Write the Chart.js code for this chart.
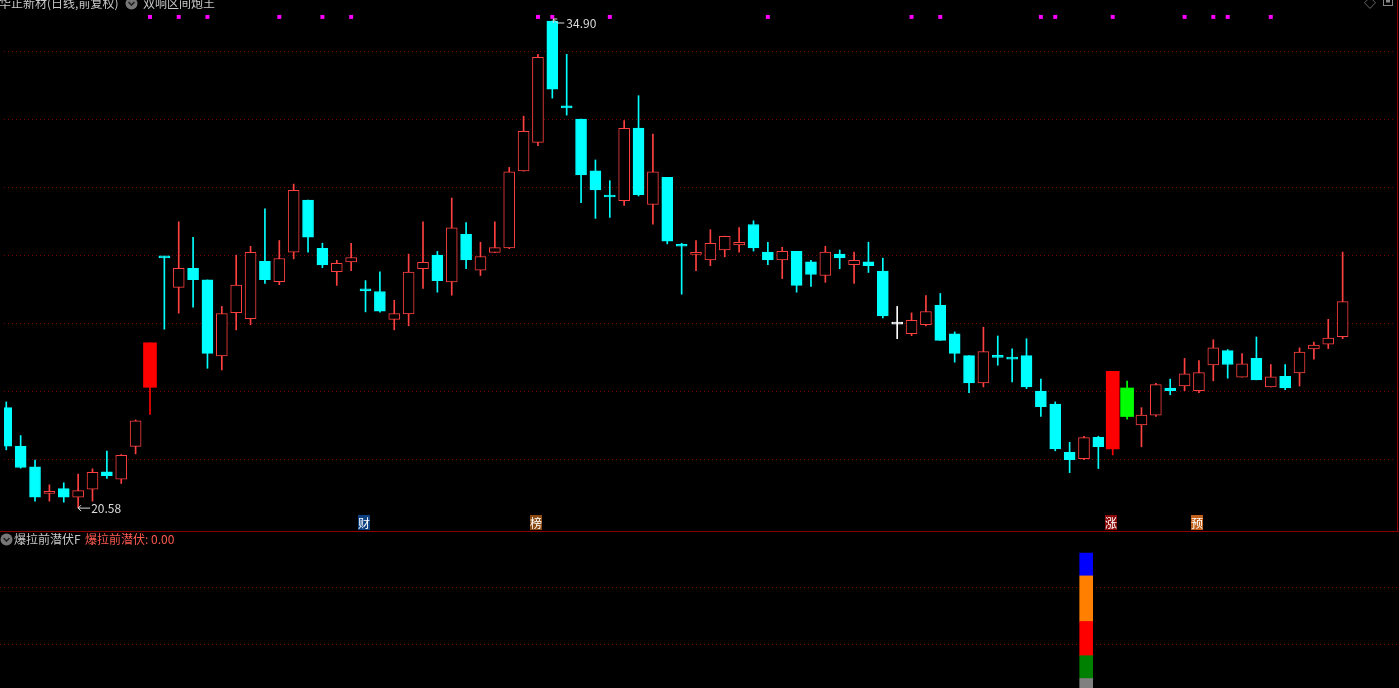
<!DOCTYPE html>
<html>
<head>
<meta charset="utf-8">
<script src="https://cdn.jsdelivr.net/npm/chart.js@4.4.1/dist/chart.umd.min.js"></script>
<style>
  body { margin: 0; background: #000; width: 1399px; height: 688px; overflow: hidden; position: relative;
         font-family: "Noto Sans CJK SC", "Noto Sans", sans-serif; }
  canvas { position: absolute; left: 0; }
  .t { position: absolute; font-size: 12px; line-height: 14px; white-space: nowrap; color: #c8c8c8; }
  .ico { position: absolute; }
</style>
</head>
<body>
<canvas id="main" width="1399" height="531" style="top:0;width:1399px;height:531px"></canvas>
<div style="position:absolute;left:0;top:531px;width:1399px;height:1px;background:#8c0000"></div>
<div style="position:absolute;left:1397px;top:0;width:1px;height:531px;background:#8c0000"></div>
<canvas id="sub" width="1399" height="156" style="top:532px;width:1399px;height:156px"></canvas>

<div class="t" style="left:-1px;top:-4px">华正新材(日线,前复权)</div>
<svg class="ico" style="left:125px;top:-3px" width="13" height="13"><circle cx="6.5" cy="6.5" r="6" fill="#777"/><path d="M3.5 5 L6.5 8 L9.5 5" stroke="#222" stroke-width="1.6" fill="none"/></svg>
<div class="t" style="left:143px;top:-4px">双响区间炮王</div>
<div class="t" style="left:1364px;top:-4px;color:#888">◇</div>
<svg class="ico" style="left:1383px;top:-3px" width="11" height="10"><rect x="0.5" y="0.5" width="9" height="8" fill="none" stroke="#888"/><rect x="3" y="0.5" width="4" height="5" fill="#888"/></svg>

<svg class="ico" style="left:0px;top:533px" width="13" height="13"><circle cx="6.5" cy="6.5" r="6" fill="#777"/><path d="M3.5 5 L6.5 8 L9.5 5" stroke="#222" stroke-width="1.6" fill="none"/></svg>
<div class="t" style="left:14px;top:532px">爆拉前潜伏F</div>
<div class="t" id="subval" style="left:85px;top:532px;color:#ff5a50"></div>

<script>
// daily candles, left to right
const opens = [23.52, 22.39, 21.78, 21.02, 21.14, 20.89, 21.12, 21.63, 21.42, 22.38,
  24.12, 27.97, 27.06, 27.62, 27.28, 25.04, 26.32, 26.14, 27.83, 27.23,
  28.10, 29.63, 28.21, 27.52, 27.81, 27.00, 26.94, 26.12, 26.28, 27.61,
  28.01, 27.22, 28.62, 27.57, 28.09, 28.22, 30.49, 31.33, 34.90, 32.38,
  32.01, 30.49, 29.76, 29.61, 31.75, 29.50, 30.30, 28.31, 28.05, 27.87,
  28.16, 28.31, 28.91, 28.10, 27.87, 28.12, 27.81, 27.41, 28.04, 27.73,
  27.81, 27.54, 26.01, 25.70, 25.96, 26.53, 25.69, 25.05, 24.25, 25.04,
  24.99, 25.05, 24.01, 23.63, 22.21, 22.02, 22.65, 22.31, 24.10, 23.01,
  23.30, 24.10, 24.16, 24.02, 24.78, 25.20, 24.42, 24.97, 24.13, 24.44,
  24.54, 25.25, 25.39, 25.61];
const highs = [23.69, 22.70, 21.98, 21.25, 21.31, 21.57, 21.72, 22.24, 22.14, 23.16,
  25.43, 27.97, 28.99, 28.53, 27.28, 26.50, 28.01, 28.27, 29.37, 28.44,
  30.10, 29.63, 28.36, 27.86, 28.36, 27.26, 27.52, 26.68, 28.04, 28.99,
  28.12, 29.69, 28.97, 28.39, 28.99, 30.59, 32.10, 33.92, 34.90, 33.92,
  32.01, 30.81, 30.20, 31.97, 32.70, 31.57, 30.30, 28.36, 28.44, 28.76,
  28.57, 28.82, 29.02, 28.39, 28.24, 28.12, 27.86, 28.27, 28.16, 28.10,
  28.39, 27.92, 26.50, 26.31, 26.82, 26.88, 25.75, 25.05, 25.89, 25.63,
  25.25, 25.55, 24.36, 23.69, 22.50, 22.68, 22.68, 24.59, 24.30, 23.52,
  24.24, 24.36, 24.97, 24.91, 25.52, 25.23, 25.11, 25.60, 24.79, 24.79,
  25.28, 25.45, 26.12, 28.10];
const lows = [22.28, 21.74, 20.77, 20.77, 20.74, 20.58, 20.77, 21.44, 21.29, 22.16,
  23.32, 25.83, 26.30, 26.48, 24.68, 24.63, 25.81, 25.96, 27.18, 27.14,
  27.90, 28.10, 27.64, 27.12, 27.55, 26.34, 26.33, 25.81, 25.93, 27.03,
  26.92, 26.83, 27.61, 27.41, 28.08, 28.20, 30.48, 31.23, 32.63, 32.13,
  29.55, 29.09, 29.12, 29.47, 29.75, 28.92, 28.34, 26.86, 27.55, 27.70,
  27.96, 28.10, 28.13, 27.73, 27.32, 26.92, 27.09, 27.21, 27.61, 27.18,
  27.50, 26.16, 25.55, 25.64, 25.93, 25.50, 24.86, 23.96, 24.13, 24.77,
  24.28, 24.08, 23.26, 22.25, 21.61, 21.99, 21.73, 22.13, 23.18, 22.37,
  23.26, 23.90, 24.02, 23.96, 24.31, 24.39, 24.42, 24.34, 24.13, 24.05,
  24.16, 24.95, 25.26, 25.55];
const closes = [22.39, 21.76, 20.89, 21.04, 20.89, 21.08, 21.62, 21.52, 22.12, 23.13,
  25.43, 27.95, 27.62, 27.29, 25.12, 26.29, 27.13, 28.09, 27.29, 27.91,
  29.92, 28.54, 27.72, 27.77, 27.94, 26.98, 26.36, 26.29, 27.51, 27.80,
  27.26, 28.81, 27.87, 27.97, 28.23, 30.46, 31.65, 33.83, 32.89, 32.36,
  30.37, 29.93, 29.74, 31.74, 29.79, 30.46, 28.42, 28.29, 28.07, 28.36,
  28.56, 28.39, 28.22, 27.87, 28.12, 27.12, 27.44, 28.10, 27.93, 27.86,
  27.70, 26.22, 26.01, 26.09, 26.35, 25.50, 25.12, 24.25, 25.17, 25.02,
  24.97, 24.13, 23.55, 22.31, 21.99, 22.64, 22.37, 24.59, 23.26, 23.30,
  24.20, 24.02, 24.52, 24.55, 25.28, 24.79, 24.81, 24.34, 24.43, 24.10,
  25.16, 25.36, 25.57, 26.64];

const limitUp = [10, 77];          // solid red bars
const greenBar = [78];             // highlighted green bar
const signalDots = [10, 12, 14, 19, 22, 24, 37, 38, 42, 53, 63, 65, 72, 73, 77, 82, 84, 85, 88];
const dotLevel = 35.02;
const tagIndex = [25, 37, 77, 83];
const tagText = ['财', '榜', '涨', '预'];
const tagColor = ['#0c3f80', '#8a4a12', '#8a0a0a', '#c0601a'];
const priceGrid = [22, 24, 26, 28, 30, 32, 34];

// lower panel
const subIndex = 75;
const subSegments = [20, 20, 30, 40, 20];
const subColors = ['#808080', '#008000', '#ff0000', '#ff8000', '#0000ff'];
const subGrid = [50, 100];
const subValue = 0.00;

const UP = '#ff4040', DOWN = '#00ffff', GRID = '#7a0000';
const X_MIN = -0.159, X_MAX = 96.644;

function candleColor(i) {
    if (greenBar.includes(i)) return '#00ff00';
    if (limitUp.includes(i)) return '#ff0000';
    if (closes[i] > opens[i]) return UP;
    if (closes[i] < opens[i]) return DOWN;
    return '#ffffff';
}
function bodyRange(i) {
    let a = Math.min(opens[i], closes[i]), b = Math.max(opens[i], closes[i]);
    if (b - a < 0.06) { const m = (a + b) / 2; a = m - 0.03; b = m + 0.03; }
    return [a, b];
}
const isWide = i => limitUp.includes(i) || greenBar.includes(i);
const idx = opens.map((_, i) => i);
const hollow = i => closes[i] > opens[i] && !isWide(i);

const candleLabels = {
    id: 'candleLabels',
    afterDatasetsDraw(chart) {
        const { ctx, scales: { x, y } } = chart;
        ctx.save();
        ctx.font = '12px "Noto Sans CJK SC", sans-serif';
        ctx.textBaseline = 'middle';
        ctx.strokeStyle = ctx.fillStyle = '#dcdcdc';
        ctx.lineWidth = 1;
        // highest
        let hi = 0, lo = 0;
        idx.forEach(i => { if (highs[i] > highs[hi]) hi = i; if (lows[i] < lows[lo]) lo = i; });
        let px = x.getPixelForValue(hi), py = y.getPixelForValue(highs[hi]);
        ctx.beginPath();
        ctx.moveTo(px + 1, py - 2); ctx.lineTo(px + 5, py + 2); ctx.lineTo(px + 12, py + 2);
        ctx.moveTo(px + 1, py - 2); ctx.lineTo(px + 1, py + 2);
        ctx.moveTo(px + 1, py - 2); ctx.lineTo(px + 5, py - 2);
        ctx.stroke();
        ctx.fillText(highs[hi].toFixed(2), px + 14, py + 2);
        // lowest
        px = x.getPixelForValue(lo); py = y.getPixelForValue(lows[lo]);
        ctx.beginPath();
        ctx.moveTo(px, py + 0.5); ctx.lineTo(px + 12, py + 0.5);
        ctx.moveTo(px, py + 0.5); ctx.lineTo(px + 3, py - 2.5);
        ctx.moveTo(px, py + 0.5); ctx.lineTo(px + 3, py + 3.5);
        ctx.stroke();
        ctx.fillText(lows[lo].toFixed(2), px + 13, py + 1);
        // event tags at the bottom
        ctx.textAlign = 'center';
        tagIndex.forEach((i, k) => {
            const tx = Math.round(x.getPixelForValue(i)) - 2;
            ctx.fillStyle = tagColor[k];
            ctx.fillRect(tx - 6, 515, 12, 15);
            ctx.fillStyle = '#ffffff';
            ctx.fillText(tagText[k], tx, 523);
        });
        ctx.restore();
    }
};

const yGrid = vals => ({
    display: true,
    afterBuildTicks: s => { s.ticks = vals.map(v => ({ value: v })); },
    afterFit: s => { s.width = 0; },
    ticks: { display: false },
    grid: { color: GRID, drawTicks: false, lineWidth: 1 },
    border: { display: false, dash: [1, 3] }
});
const xAxis = { type: 'linear', min: X_MIN, max: X_MAX, offset: false, display: false, grid: { offset: false } };

new Chart(document.getElementById('main'), {
    type: 'bar',
    data: {
        datasets: [
            {
                type: 'line', order: 0, showLine: false,
                data: signalDots.map(i => ({ x: i, y: dotLevel })),
                pointStyle: 'rect', pointRadius: 2.8, pointBorderWidth: 0,
                pointBackgroundColor: '#ff00ff'
            },
            {
                order: 1, barThickness: 13, grouped: false,
                data: idx.filter(isWide).map(i => ({ x: i, y: [opens[i], closes[i]] })),
                backgroundColor: c => candleColor(c.raw.x), borderWidth: 0
            },
            {
                order: 2, barThickness: 11, grouped: false,
                data: idx.filter(i => !isWide(i)).map(i => ({ x: i, y: bodyRange(i) })),
                backgroundColor: c => hollow(c.raw.x) ? '#000000' : candleColor(c.raw.x),
                borderColor: c => candleColor(c.raw.x),
                borderWidth: 1, borderSkipped: false
            },
            {
                order: 3, barThickness: 1, grouped: false,
                data: idx.map(i => ({ x: i, y: [lows[i], highs[i]] })),
                backgroundColor: c => candleColor(c.raw.x), borderWidth: 0
            }
        ]
    },
    options: {
        responsive: false, animation: false, devicePixelRatio: 1,
        layout: { padding: 0 },
        plugins: { legend: { display: false }, tooltip: { enabled: false } },
        scales: {
            x: xAxis,
            y: Object.assign({ min: 20.009, max: 35.40 }, yGrid(priceGrid))
        }
    },
    plugins: [candleLabels]
});

let acc = 0;
const subSets = subSegments.map((v, k) => {
    const seg = [acc, acc + v];
    acc += v;
    return { data: [{ x: subIndex, y: seg }], backgroundColor: subColors[k], barThickness: 13, grouped: false, borderWidth: 0 };
});

new Chart(document.getElementById('sub'), {
    type: 'bar',
    data: { datasets: subSets },
    options: {
        responsive: false, animation: false, devicePixelRatio: 1,
        layout: { padding: 0 },
        plugins: { legend: { display: false }, tooltip: { enabled: false } },
        scales: {
            x: xAxis,
            y: Object.assign({ min: 11.67, max: 148.5 }, yGrid(subGrid))
        }
    }
});

document.getElementById('subval').textContent = '爆拉前潜伏: ' + subValue.toFixed(2);
</script>
</body>
</html>
